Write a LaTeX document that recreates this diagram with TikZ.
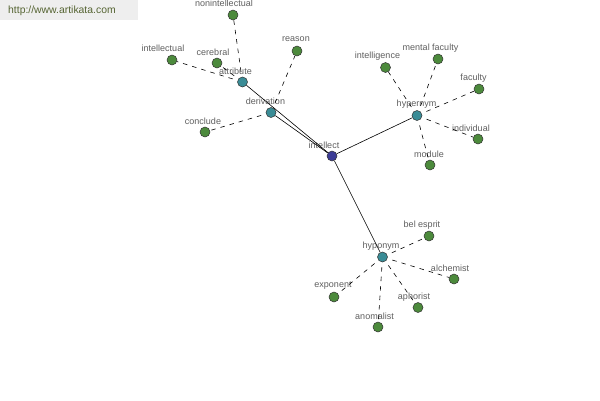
\documentclass[tikz,border=0pt]{standalone}
\usepackage{fontspec}
\setmainfont{Liberation Sans}
\begin{document}
\begin{tikzpicture}[x=1pt,y=-1pt,
  dot/.style={circle,draw=black!80,line width=0.5pt,minimum size=10pt,inner sep=0pt},
  leaf/.style={dot,fill=leafc},
  hub/.style={dot,fill=hubc},
  root/.style={dot,fill=rootc},
  lbl/.style={font=\fontsize{9}{10}\selectfont,text=lblc,inner sep=0pt,anchor=center},
  solidedge/.style={draw=black,line width=0.6pt},
  dashedge/.style={draw=black,line width=0.6pt,dash pattern=on 4.5pt off 5pt,dash phase=4.5pt}]
\definecolor{leafc}{RGB}{76,138,60}
\definecolor{hubc}{RGB}{58,140,150}
\definecolor{rootc}{RGB}{60,60,150}
\definecolor{lblc}{RGB}{95,95,95}
\definecolor{wmbg}{RGB}{238,238,238}
\definecolor{wmtxt}{RGB}{85,100,50}
\useasboundingbox (0,0) rectangle (600,400);
\fill[white] (0,0) rectangle (600,400);
% watermark
\fill[wmbg] (0,0) rectangle (138,20);
\node[font=\fontsize{10.4}{12}\selectfont,text=wmtxt,inner sep=0pt,anchor=west] (wm) at (8,11) {http://www.artikata.com};
% nodes
\node[root] (intellect) at (332,156) {};
\node[hub] (attribute) at (242.5,82) {};
\node[hub] (derivation) at (271,112.5) {};
\node[hub] (hypernym) at (417,115.5) {};
\node[hub] (hyponym) at (382.5,257) {};
\node[leaf] (nonintellectual) at (233,15) {};
\node[leaf] (intellectual) at (172,60) {};
\node[leaf] (cerebral) at (217,63) {};
\node[leaf] (reason) at (297,51) {};
\node[leaf] (conclude) at (205,132) {};
\node[leaf] (intelligence) at (385.5,67.5) {};
\node[leaf] (mentalfaculty) at (438,59) {};
\node[leaf] (faculty) at (479,89) {};
\node[leaf] (individual) at (478,139) {};
\node[leaf] (module) at (430,165) {};
\node[leaf] (belesprit) at (429,236) {};
\node[leaf] (alchemist) at (454,279) {};
\node[leaf] (aphorist) at (418,307.5) {};
\node[leaf] (anomalist) at (378,327) {};
\node[leaf] (exponent) at (334,297) {};
% labels
\node[lbl] (l-intellect) at (324,145) {intellect};
\node[lbl] (l-attribute) at (235.5,71) {attribute};
\node[lbl] (l-derivation) at (265.5,101) {derivation};
\node[lbl] (l-hypernym) at (416.5,104.5) {hypernym};
\node[lbl] (l-hyponym) at (381,246.5) {hyponym};
\node[lbl] (l-nonintellectual) at (224,3) {nonintellectual};
\node[lbl] (l-intellectual) at (163,48) {intellectual};
\node[lbl] (l-cerebral) at (213,52) {cerebral};
\node[lbl] (l-reason) at (296,39) {reason};
\node[lbl] (l-conclude) at (203,121) {conclude};
\node[lbl] (l-intelligence) at (377.5,56) {intelligence};
\node[lbl] (l-mentalfaculty) at (430.5,48) {mental faculty};
\node[lbl] (l-faculty) at (473.5,78) {faculty};
\node[lbl] (l-individual) at (471,128) {individual};
\node[lbl] (l-module) at (429,154) {module};
\node[lbl] (l-belesprit) at (422,225) {bel esprit};
\node[lbl] (l-alchemist) at (450,268) {alchemist};
\node[lbl] (l-aphorist) at (414,297) {aphorist};
\node[lbl] (l-anomalist) at (374.5,316) {anomalist};
\node[lbl] (l-exponent) at (333,286) {exponent};
% edges
\draw[solidedge] (intellect) -- (attribute);
\draw[solidedge] (intellect) -- (derivation);
\draw[solidedge] (intellect) -- (hypernym);
\draw[solidedge] (intellect) -- (hyponym);
\draw[dashedge] (attribute) -- (nonintellectual);
\draw[dashedge] (attribute) -- (intellectual);
\draw[dashedge] (attribute) -- (cerebral);
\draw[dashedge] (derivation) -- (reason);
\draw[dashedge] (derivation) -- (conclude);
\draw[dashedge] (hypernym) -- (intelligence);
\draw[dashedge] (hypernym) -- (mentalfaculty);
\draw[dashedge] (hypernym) -- (faculty);
\draw[dashedge] (hypernym) -- (individual);
\draw[dashedge] (hypernym) -- (module);
\draw[dashedge] (hyponym) -- (belesprit);
\draw[dashedge] (hyponym) -- (alchemist);
\draw[dashedge] (hyponym) -- (aphorist);
\draw[dashedge] (hyponym) -- (anomalist);
\draw[dashedge] (hyponym) -- (exponent);
\end{tikzpicture}
\end{document}
